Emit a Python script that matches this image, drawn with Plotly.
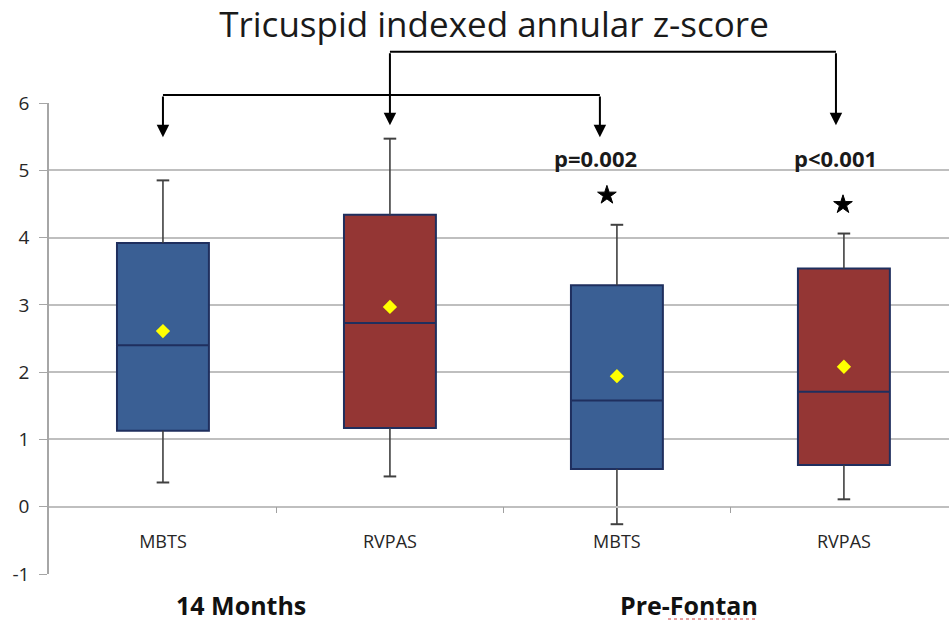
import plotly.graph_objects as go

# ---- data ----
groups = ["14 Months", "Pre-Fontan"]
shunts = ["MBTS", "RVPAS", "MBTS", "RVPAS"]
q1 = [1.13, 1.17, 0.56, 0.62]
median = [2.40, 2.73, 1.58, 1.71]
q3 = [3.92, 4.34, 3.29, 3.54]
lower_whisker = [0.36, 0.45, -0.26, 0.11]
upper_whisker = [4.85, 5.47, 4.19, 4.06]
means = [2.61, 2.97, 1.94, 2.08]
p_labels = ["p=0.002", "p<0.001"]
y_ticks = [-1, 0, 1, 2, 3, 4, 5, 6]

# ---- style ----
BLUE = "#3A5F94"
RED = "#943634"
EDGE = "#1F2F5E"
WHISK = "#404040"
GRID = "#BFBFBF"
fills = [BLUE, RED, BLUE, RED]
FONT = "Open Sans"

XMIN, XMAX = -0.502, 3.463
YMIN, YMAX = -1, 6
W, H = 949, 622
ML, MR, MT, MB = 49, 0, 103, 48


def xp(x):
    return (x - XMIN) / (XMAX - XMIN)


def yp(y):
    return (y - YMIN) / (YMAX - YMIN)


PX_PER_Y = (H - MT - MB) / (YMAX - YMIN)

fig = go.Figure()

for i in range(4):
    # whiskers
    fig.add_trace(go.Scatter(
        x=[i, i, None, i, i],
        y=[q3[i], upper_whisker[i], None, q1[i], lower_whisker[i]],
        mode="lines", line=dict(color=WHISK, width=1.6),
        showlegend=False, hoverinfo="skip"))
    fig.add_trace(go.Scatter(
        x=[i, i], y=[upper_whisker[i], lower_whisker[i]],
        mode="markers",
        marker=dict(symbol="line-ew", size=9, line=dict(color=WHISK, width=2)),
        showlegend=False, hoverinfo="skip"))
    fig.add_trace(go.Box(
        x=[i], q1=[q1[i]], median=[median[i]], q3=[q3[i]],
        lowerfence=[q1[i]], upperfence=[q3[i]],
        width=0.405, fillcolor=fills[i],
        line=dict(color=EDGE, width=2),
        boxpoints=False, showlegend=False, name=shunts[i]))

fig.add_trace(go.Scatter(
    x=list(range(4)), y=means, mode="markers",
    marker=dict(symbol="diamond", size=11, color="#FFFF00",
                line=dict(width=0)),
    showlegend=False, cliponaxis=False))

# stars
fig.add_trace(go.Scatter(
    x=[1.956, 2.996], y=[4.63, 4.49], mode="markers",
    marker=dict(symbol="star", size=14, color="black",
                line=dict(color="black", width=1)),
    showlegend=False, cliponaxis=False))

annotations = []
# p-values
for txt, x in zip(p_labels, [1.907, 2.965]):
    annotations.append(dict(x=x, y=5.18, xref="x", yref="y", text=txt,
                            showarrow=False,
                            font=dict(family=FONT, size=22, color="#1a1a1a",
                                      weight="bold")))
# group labels
for txt, x in zip(groups, [0.344, 2.317]):
    annotations.append(dict(x=x, y=yp(-1) - 31 / (H - MT - MB), xref="x",
                            yref="paper", text=txt, showarrow=False,
                            yanchor="middle",
                            font=dict(family=FONT, size=25, color="#111",
                                      weight="bold")))

# connector arrows
LINE = dict(color="black", width=2)
y_low = 6.12
y_high = 6.76
tip_a = 5.49
tip_b = 5.67
shapes = [
    dict(type="line", xref="paper", yref="paper", x0=xp(0), x1=xp(1.925),
         y0=yp(y_low), y1=yp(y_low), line=LINE),
    dict(type="line", xref="paper", yref="paper", x0=xp(1), x1=xp(2.965),
         y0=yp(y_high), y1=yp(y_high), line=LINE),
]
for x, tip, top in [(0, tip_a, y_low), (1.925, tip_a, y_low),
                    (1, tip_b, y_high), (2.965, tip_b, y_high)]:
    annotations.append(dict(x=x, y=tip, xref="x", yref="y", text="",
                            showarrow=True, ax=0,
                            ay=-(top - tip) * PX_PER_Y,
                            arrowhead=2, arrowsize=1.25, arrowwidth=2,
                            arrowcolor="black", standoff=0))

# spell-check squiggle under "Fontan"
shapes.append(dict(type="line", xref="paper", yref="paper",
                   x0=(668 - ML) / (W - ML - MR), x1=(757 - ML) / (W - ML - MR),
                   y0=yp(-1) - 45 / (H - MT - MB), y1=yp(-1) - 45 / (H - MT - MB),
                   line=dict(color="#D04040", width=1, dash="dot")))

fig.update_layout(
    width=W, height=H,
    margin=dict(l=ML, r=MR, t=MT, b=MB),
    paper_bgcolor="white", plot_bgcolor="white",
    title=dict(text="Tricuspid indexed annular z-score",
               x=494 / W, xref="container", xanchor="center",
               y=1 - 25 / H, yref="container", yanchor="middle",
               font=dict(family=FONT, size=35, color="#1a1a1a")),
    xaxis=dict(range=[XMIN, XMAX], tickvals=[0, 1, 2, 3], ticktext=shunts,
               ticks="", showgrid=False, zeroline=False,
               anchor="free", position=yp(0),
               showline=True, linecolor=GRID, linewidth=1.5,
               ticklabelstandoff=19,
               tickfont=dict(family=FONT, size=18, color="#262626"),
               minor=dict(tickvals=[0.5, 1.5, 2.5], ticks="outside",
                          ticklen=6, tickcolor="#A0A0A0", tickwidth=1,
                          showgrid=False)),
    yaxis=dict(range=[YMIN, YMAX], tickvals=y_ticks,
               ticktext=[str(v) for v in y_ticks], showgrid=True,
               gridcolor=GRID, gridwidth=1.5, zeroline=False,
               showline=True, linecolor="#A6A6A6", linewidth=1.5,
               ticks="outside", ticklen=8, tickcolor="#A6A6A6",
               ticklabelstandoff=6,
               tickfont=dict(family=FONT, size=19, color="#262626")),
    shapes=shapes, annotations=annotations,
)

fig.write_html("out.html", config={"displayModeBar": False},
               post_script="document.body.style.margin='0';")
